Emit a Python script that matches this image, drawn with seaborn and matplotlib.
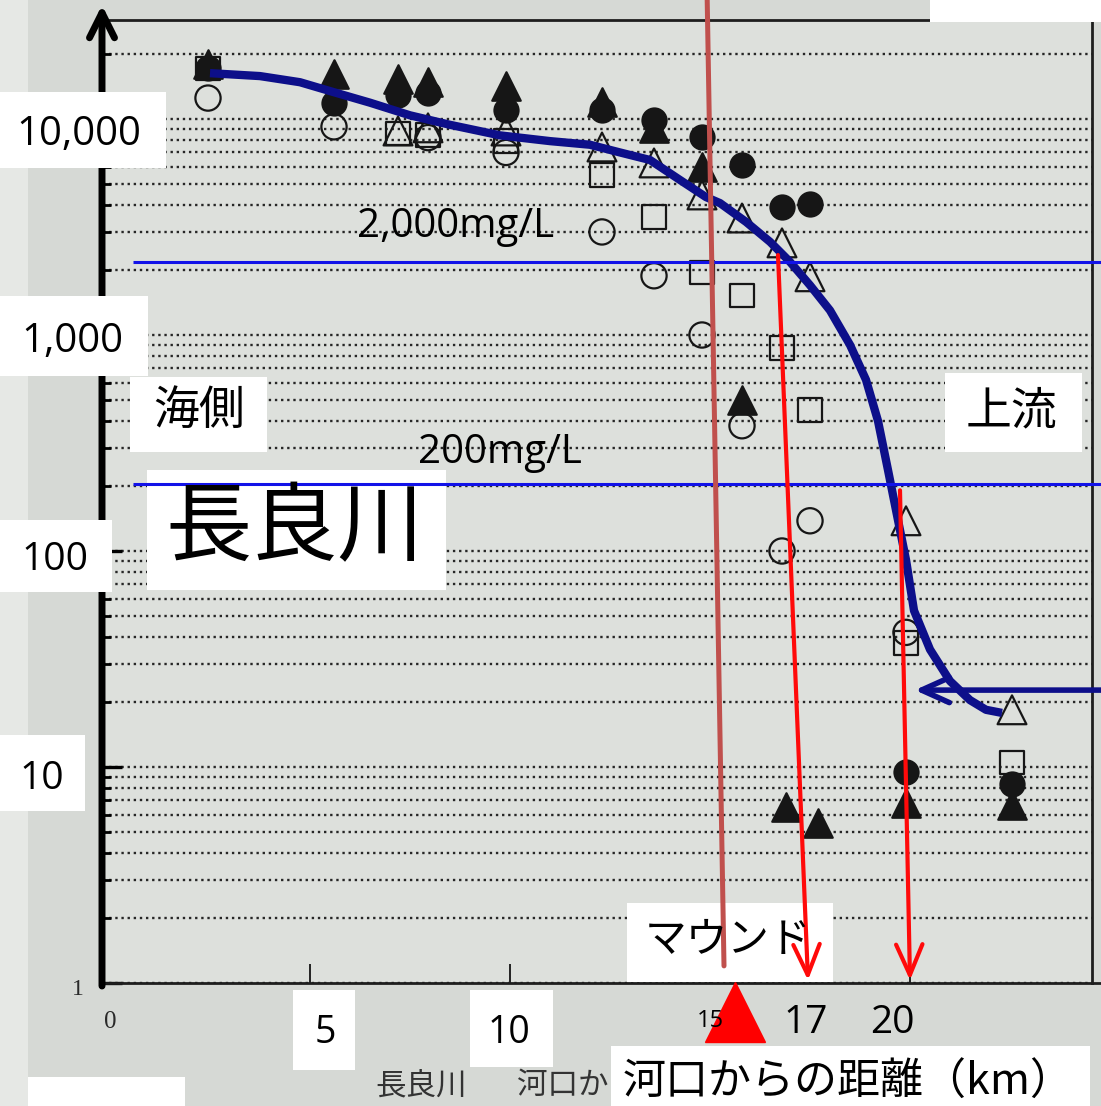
import matplotlib
matplotlib.use("Agg")
import matplotlib.pyplot as plt
from matplotlib.patches import Rectangle
from matplotlib.ticker import NullFormatter
import pandas as pd
import seaborn as sns

# -----------------------------
# Data (km from river mouth, concentration mg/L)
# -----------------------------
open_circle_km = [2.45, 5.6, 7.95, 9.9, 12.3, 13.6, 14.8, 15.8, 16.8, 17.5, 19.9]
open_circle_val = [12500, 9200, 8200, 7000, 3000, 1880, 1000, 380, 100, 138, 42]

filled_circle_km = [2.45, 5.6, 7.2, 7.95, 9.9, 12.3, 13.6, 14.8, 15.8, 16.8, 17.5, 19.9, 22.55]
filled_circle_val = [17200, 11900, 12900, 13200, 11000, 11000, 9900, 8260, 6120, 3920, 4040, 9.5, 8.3]

open_tri_km = [7.2, 7.95, 9.9, 12.3, 13.6, 14.8, 15.8, 16.8, 17.5, 19.9, 22.55]
open_tri_val = [8800, 9100, 8800, 7420, 6260, 4450, 3480, 2670, 1860, 138, 18.4]

filled_tri_km = [2.45, 5.6, 7.2, 7.95, 9.9, 12.3, 13.6, 14.8, 15.8, 16.9, 17.7, 19.9, 22.55]
filled_tri_val = [18000, 16200, 15300, 14800, 14200, 12000, 9100, 6000, 500, 6.5, 5.5, 6.8, 6.7]

open_sq_km = [2.45, 7.2, 7.95, 9.9, 12.3, 13.6, 14.8, 15.8, 16.8, 17.5, 19.9, 22.55]
open_sq_val = [17200, 8600, 8430, 7900, 5500, 3520, 1940, 1520, 870, 450, 37.5, 10.5]

# hand drawn trend curve
curve_km = [2.5, 3.75, 4.75, 5.6, 6.5, 7.5, 8.5, 9.75, 11.0, 12.0, 12.75, 13.5, 14.25,
            14.9, 15.25, 15.9, 16.5, 17.0, 17.5, 18.0, 18.5, 18.9, 19.2, 19.45, 19.7,
            19.9, 20.1, 20.5, 21.0, 21.5, 21.9, 22.3]
curve_val = [16300, 15800, 14800, 13300, 11900, 10400, 9400, 8400, 7900, 7600, 7000, 6460,
             5220, 4350, 4080, 3340, 2700, 2180, 1700, 1300, 900, 620, 400, 237, 139,
             91, 53, 35, 25, 20.4, 18.4, 17.8]

# threshold lines as drawn
limit_values = [2180, 204]
limit_labels = ["2,000mg/L", "200mg/L"]

# mound line and arrows (km, mg/L)
mound_line_km = [14.93, 15.35]
mound_line_val = [35500, 1.2]
arrow_17 = ((16.7, 2345), (17.45, 1.03))
arrow_20 = ((19.75, 191), (20.0, 1.03))
arrow_upstream = ((24.78, 22.7), (20.12, 22.7))
mound_km, mound_val = 15.62, 0.734

# -----------------------------
# Figure
# -----------------------------
sns.set_theme(style="white")
plt.rcParams["font.family"] = ["Open Sans", "Noto Sans CJK JP", "DejaVu Sans"]

W, H = 1101, 1106
fig = plt.figure(figsize=(W / 100, H / 100), dpi=100)
fig.patch.set_facecolor("#d6d9d5")


def fx(x):
    return x / W


def fy(y):
    return 1 - y / H


rect = [fx(103), fy(983), (1092 - 103) / W, (983 - 20) / H]
ymax = 10 ** (963 / 216)

ax = fig.add_axes(rect)
ax.set_facecolor("#dde0dc")
ax.set_yscale("log")
ax.set_xlim(-0.175, 24.55)
ax.set_ylim(1, ymax)

ax.yaxis.grid(True, which="both", ls=(0, (1, 1.6)), color="#262626", lw=1.7)
ax.xaxis.grid(False)
ax.set_axisbelow(True)

navy = "#0d0f8a"
sns.lineplot(x=curve_km, y=curve_val, sort=False, estimator=None, color=navy,
             lw=6, ax=ax, zorder=4, solid_capstyle="butt", solid_joinstyle="round")

rows = []
for kind, xs, ys in [("filled_circle", filled_circle_km, filled_circle_val),
                     ("filled_tri", filled_tri_km, filled_tri_val),
                     ("open_circle", open_circle_km, open_circle_val),
                     ("open_tri", open_tri_km, open_tri_val),
                     ("open_sq", open_sq_km, open_sq_val)]:
    for x, y in zip(xs, ys):
        rows.append({"kind": kind, "km": x, "val": y})
df = pd.DataFrame(rows)

styles = {
    "filled_circle": dict(marker="o", s=300, fc="#161616"),
    "filled_tri": dict(marker="^", s=420, fc="#161616"),
    "open_circle": dict(marker="o", s=330, fc="none"),
    "open_tri": dict(marker="^", s=430, fc="none"),
    "open_sq": dict(marker="s", s=280, fc="none"),
}
for kind, st in styles.items():
    sub = df[df["kind"] == kind]
    sns.scatterplot(data=sub, x="km", y="val", marker=st["marker"], s=st["s"],
                    facecolors=st["fc"], edgecolor="#161616", linewidth=1.6,
                    ax=ax, zorder=3, legend=False)

ax.set_xlabel("")
ax.set_ylabel("")
ax.set_xticks([5, 10, 15, 20])
ax.set_xticklabels([])
ax.yaxis.set_major_formatter(NullFormatter())
ax.yaxis.set_minor_formatter(NullFormatter())
ax.tick_params(axis="x", direction="in", length=14, width=1.4, color="#222222", bottom=True)
ax.tick_params(axis="y", which="major", direction="in", length=14, width=2.4,
               color="black", left=True)
ax.tick_params(axis="y", which="minor", direction="in", length=6, width=2,
               color="black", left=True)

for side in ["top", "right", "bottom"]:
    ax.spines[side].set_color("#1e1e1e")
    ax.spines[side].set_linewidth(2)
ax.spines["left"].set_visible(False)

# thick left axis with arrow head
ax.annotate("", xy=(102, H - 5), xytext=(102, H - 986), xycoords="figure pixels",
            textcoords="figure pixels", annotation_clip=False,
            arrowprops=dict(arrowstyle="->,head_length=1.8,head_width=0.9", lw=5,
                            color="black", shrinkA=0, shrinkB=0, mutation_scale=10))
# bottom axis runs off the right edge
fig.add_artist(plt.Line2D([fx(1092), fx(1101)], [fy(983), fy(983)], color="#1e1e1e",
                          lw=2, transform=fig.transFigure, zorder=0.5))

# light strip on the left edge of the photo
fig.add_artist(Rectangle((0, 0), fx(28), 1, transform=fig.transFigure,
                         fc="#e6e8e5", ec="none", zorder=0.4))

# original scan labels
fig.text(fx(78), fy(995), "1", family="Liberation Serif", fontsize=17, color="#2a2a2a",
         ha="center", va="baseline", zorder=0.6)
fig.text(fx(110), fy(1028), "0", family="Liberation Serif", fontsize=18, color="#2a2a2a",
         ha="center", va="baseline", zorder=0.6)
fig.text(fx(375), fy(1094), "長良川", fontsize=22, color="#333333", ha="left",
         va="baseline", zorder=0.6, family=["Noto Sans CJK JP"])
fig.text(fx(517), fy(1094), "河口か", fontsize=22, color="#333333", ha="left",
         va="baseline", zorder=0.6, family=["Noto Sans CJK JP"])

# white annotation boxes (pixels: x0, y0, x1, y1)
boxes = [(0, 92, 166, 168), (0, 296, 148, 376), (130, 377, 267, 452),
         (147, 470, 446, 590), (0, 520, 112, 592), (945, 373, 1082, 452),
         (0, 735, 85, 811), (627, 903, 833, 982), (293, 990, 355, 1070),
         (470, 990, 553, 1067), (611, 1046, 1090, 1106), (28, 1077, 185, 1106),
         (930, 0, 1101, 22)]
for x0, y0, x1, y1 in boxes:
    fig.add_artist(Rectangle((fx(x0), fy(y1)), (x1 - x0) / W, (y1 - y0) / H,
                             transform=fig.transFigure, fc="white", ec="none", zorder=1))

# overlay axes for the annotation lines
ax2 = fig.add_axes(rect, zorder=2)
ax2.set_yscale("log")
ax2.set_xlim(-0.175, 24.55)
ax2.set_ylim(1, ymax)
ax2.axis("off")

ax2.hlines(limit_values, 0.575, 24.78, color="#1212e8", lw=2.2, clip_on=False)
ax2.plot(mound_line_km, mound_line_val, color="#c0504d", lw=3.6, clip_on=False)
for (x0, y0), (x1, y1) in [arrow_17, arrow_20]:
    ax2.annotate("", xy=(x1, y1), xytext=(x0, y0), annotation_clip=False,
                 arrowprops=dict(arrowstyle="->,head_length=2.2,head_width=0.95",
                                 color="#ff0a0a", lw=3, shrinkA=0, shrinkB=0,
                                 mutation_scale=10))
(ux0, uy0), (ux1, uy1) = arrow_upstream
ax2.annotate("", xy=(ux1, uy1), xytext=(ux0, uy0), annotation_clip=False,
             arrowprops=dict(arrowstyle="->,head_length=2.0,head_width=0.9",
                             color=navy, lw=4, shrinkA=0, shrinkB=0, mutation_scale=10))
ax2.plot([mound_km], [mound_val], marker="^", ms=43, color="#ff0000", ls="none",
         clip_on=False)

# annotation texts
latin = ["Open Sans", "Noto Sans CJK JP"]
texts = [
    ("10,000", 79, 145, 29, "baseline"),
    ("1,000", 72, 352, 29, "baseline"),
    ("100", 55, 570, 28, "baseline"),
    ("10", 42, 789, 28, "baseline"),
    ("5", 325, 1043, 27, "baseline"),
    ("10", 509, 1043, 27, "baseline"),
    ("17", 806, 1033, 28, "baseline"),
    ("20", 892, 1033, 28, "baseline"),
    (limit_labels[0], 456, 237, 29, "baseline"),
    (limit_labels[1], 500, 463, 29, "baseline"),
]
for s, x, y, size, va in texts:
    fig.text(fx(x), fy(y), s, family=latin, fontsize=size, ha="center", va=va,
             color="black", zorder=3)
fig.text(fx(710), fy(1027), "15", family=latin, fontsize=17, ha="center",
         va="baseline", color="black", zorder=3)

jp = [
    ("海側", 199, 411, 33),
    ("上流", 1012, 411, 33),
    ("長良川", 295, 530, 62),
    ("マウンド", 728, 941, 30),
    ("河口からの距離（km）", 848, 1083, 31),
]
for s, x, y, size in jp:
    fig.text(fx(x), fy(y), s, family=["Noto Sans CJK JP", "DejaVu Sans"], fontsize=size,
             ha="center", va="center", color="black", zorder=3)

fig.savefig("out.png", dpi=100, facecolor=fig.get_facecolor())
